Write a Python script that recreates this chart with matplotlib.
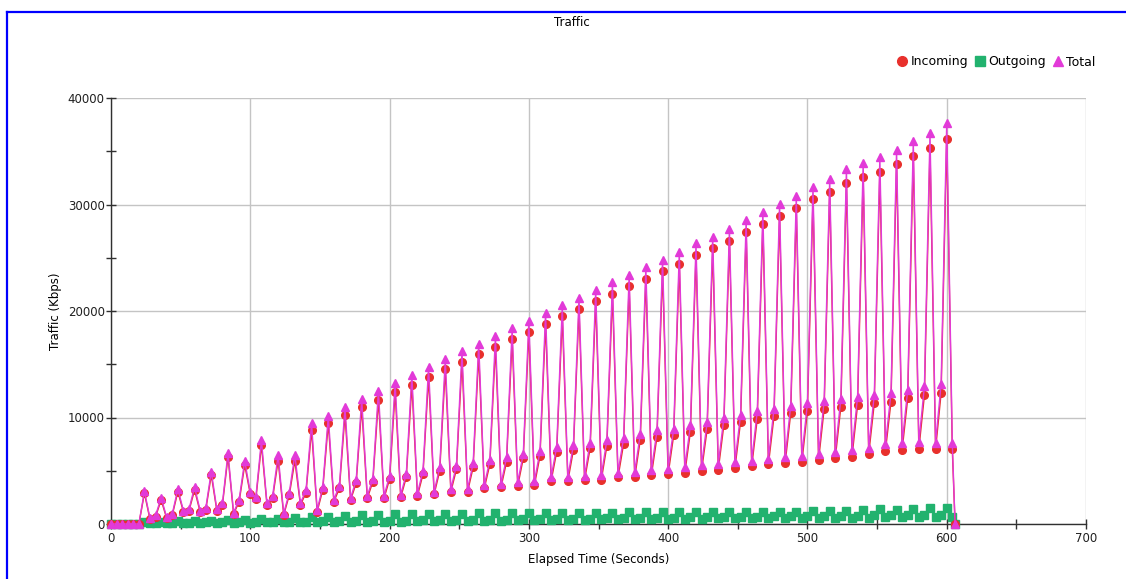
import numpy as np
import matplotlib
matplotlib.use("Agg")
import matplotlib.pyplot as plt
from matplotlib.lines import Line2D
from matplotlib.ticker import MultipleLocator

# samples are taken every 4 s; each 12 s burst gives a peak, a low and a mid sample
sample_step = 4
first_peak = 24
lead_in = [0, 0, 0, 0, 0, 0]          # t = 0 .. 20 s, nothing flowing yet

peak_in = [2880, 2250, 3030, 3190, 4600, 6320, 5540, 7420, 5950, 5950,
           8830, 9450, 10250, 10960, 11670, 12380, 13090, 13800, 14520, 15230,
           15940, 16650, 17360, 18070, 18780, 19490, 20200, 20910, 21620, 22330,
           23040, 23750, 24460, 25250, 25890, 26600, 27420, 28200, 28920, 29640,
           30490, 31200, 32050, 32550, 33050, 33800, 34550, 35280, 36150]
low_in = [440, 530, 1150, 1150, 1250, 940, 2820, 1780, 845, 1780,
          1150, 2100, 2250, 2410, 2410, 2500, 2630, 2790, 3030, 3030,
          3350, 3440, 3570, 3660, 4040, 4040, 4130, 4130, 4380, 4380,
          4600, 4670, 4820, 5000, 5100, 5300, 5400, 5600, 5700, 5800,
          6000, 6200, 6320, 6570, 6850, 6950, 7040, 7010, 7010]
mid_in = [690, 845, 1250, 1310, 1780, 2100, 2320, 2410, 2720, 2940,
          3190, 3350, 3820, 3970, 4200, 4380, 4670, 4980, 5130, 5320,
          5600, 5850, 6170, 6380, 6790, 6950, 7110, 7320, 7510, 7890,
          8200, 8360, 8670, 8900, 9300, 9600, 9900, 10100, 10400, 10600,
          10800, 11000, 11170, 11330, 11490, 11800, 12110, 12330]

peak_out = [200, 220, 250, 280, 320, 360, 400, 450, 500, 560,
            620, 680, 740, 800, 850, 900, 930, 950, 970, 980,
            990, 1000, 1010, 1020, 1030, 1040, 1050, 1060, 1070, 1080,
            1080, 1085, 1090, 1090, 1090, 1130, 1130, 1130, 1130, 1155,
            1180, 1220, 1260, 1315, 1380, 1314, 1408, 1465, 1474]
low_out = [80, 90, 100, 110, 120, 130, 140, 150, 160, 170,
           180, 190, 200, 210, 220, 230, 240, 250, 260, 270,
           290, 310, 330, 350, 370, 390, 410, 430, 450, 470,
           480, 490, 500, 510, 520, 530, 540, 550, 560, 570,
           580, 590, 600, 610, 620, 625, 630, 630, 630]
mid_out = [110, 120, 140, 150, 160, 180, 190, 200, 220, 230,
           250, 260, 280, 290, 300, 320, 330, 340, 360, 370,
           390, 410, 430, 450, 470, 490, 510, 530, 550, 570,
           590, 600, 620, 640, 660, 680, 700, 710, 720, 740,
           760, 780, 790, 800, 810, 820, 835, 845]

end_time = 606

# assemble the sampled series
times, incoming, outgoing = [], [], []
for i, v in enumerate(lead_in):
    times.append(i * sample_step)
    incoming.append(v)
    outgoing.append(0)
for k in range(len(peak_in)):
    t0 = first_peak + 3 * sample_step * k
    times += [t0, t0 + sample_step]
    incoming += [peak_in[k], low_in[k]]
    outgoing += [peak_out[k], low_out[k]]
    if k < len(mid_in):
        times.append(t0 + 2 * sample_step)
        incoming.append(mid_in[k])
        outgoing.append(mid_out[k])
times.append(end_time)
incoming.append(0)
outgoing.append(0)

times = np.array(times)
incoming = np.array(incoming)
outgoing = np.array(outgoing)
total = incoming + outgoing

c_in = "#e8302c"
c_out = "#22b26e"
c_tot = "#e23ad8"

W, H = 1126, 579
fig = plt.figure(figsize=(W / 100, H / 100), dpi=100)
fig.patch.set_facecolor("white")
ax = fig.add_axes([111 / W, 55 / H, 975 / W, 426 / H])

ax.plot(times, outgoing, color=c_out, lw=1, marker="s", ms=5.2, mec=c_out,
        mfc=c_out, clip_on=False, zorder=3)
ax.plot(times, incoming, color=c_in, lw=1, marker="o", ms=5.5, mec=c_in,
        mfc=c_in, clip_on=False, zorder=4)
ax.plot(times, total, color=c_tot, lw=1, marker="^", ms=5.2, mec=c_tot,
        mfc=c_tot, clip_on=False, zorder=5)

ax.set_xlim(0, 700)
ax.set_ylim(0, 40000)
ax.xaxis.set_major_locator(MultipleLocator(100))
ax.xaxis.set_minor_locator(MultipleLocator(50))
ax.yaxis.set_major_locator(MultipleLocator(10000))
ax.yaxis.set_minor_locator(MultipleLocator(5000))
ax.tick_params(which="both", direction="inout", length=7, width=1,
               color="#303030", labelsize=8.5, labelcolor="#202020")
ax.tick_params(axis="x", pad=2)
ax.tick_params(axis="y", pad=1)

ax.grid(True, which="major", color="#c4c4c4", lw=1)
ax.set_axisbelow(True)
for side in ("top", "right"):
    ax.spines[side].set_visible(False)
for side in ("left", "bottom"):
    ax.spines[side].set_color("#303030")
    ax.spines[side].set_linewidth(1)

ax.set_xlabel("Elapsed Time (Seconds)", fontsize=8.5, labelpad=6)
ax.set_ylabel("Traffic (Kbps)", fontsize=8.5, labelpad=4)
fig.text(572 / W, 1 - 22 / H, "Traffic", ha="center", va="center", fontsize=8.5)

handles = [
    Line2D([], [], ls="none", marker="o", ms=7, color=c_in),
    Line2D([], [], ls="none", marker="s", ms=7, color=c_out),
    Line2D([], [], ls="none", marker="^", ms=7, color=c_tot),
]
fig.legend(handles, ["Incoming", "Outgoing", "Total"], loc="center right",
           bbox_to_anchor=(1100 / W, 1 - 62 / H), ncol=3, frameon=False,
           fontsize=9, handlelength=0.9, handletextpad=0.2,
           columnspacing=0.5, borderaxespad=0)

# window frame edge
fig.add_artist(Line2D([7 / W, 1], [1 - 12 / H, 1 - 12 / H], color="#0000ff", lw=1.6))
fig.add_artist(Line2D([7 / W, 7 / W], [0, 1 - 12 / H], color="#0000ff", lw=1.6))

fig.savefig("out.png", dpi=100)
